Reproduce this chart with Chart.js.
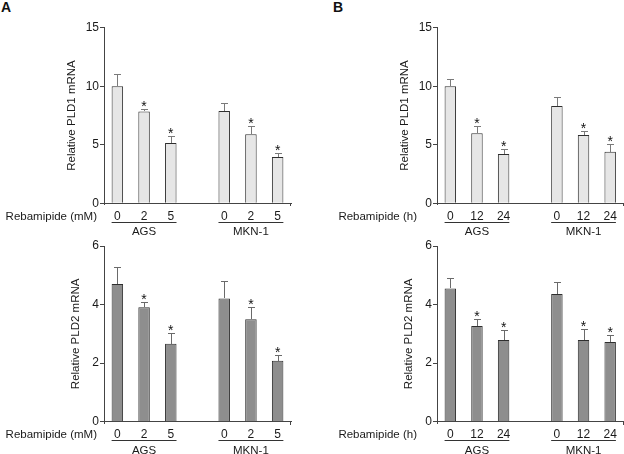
<!DOCTYPE html>
<html>
<head>
<meta charset="utf-8">
<script src="https://cdn.jsdelivr.net/npm/chart.js@4.4.1/dist/chart.umd.min.js"></script>
<style>
  html, body { margin: 0; padding: 0; background: #ffffff; }
  #page { position: relative; width: 624px; height: 454px; overflow: hidden; }
  .panel { position: absolute; width: 312px; height: 240px; }
  .tag { position: absolute; font: bold 14px "Liberation Sans", Arial, sans-serif; color: #111; }
</style>
</head>
<body>
<div id="page">
  <div class="tag" style="left:1px; top:-1px;">A</div>
  <div class="tag" style="left:333px; top:-1px;">B</div>
  <div class="panel" style="left:0; top:0;"><canvas id="pld1DoseChart"></canvas></div>
  <div class="panel" style="left:312px; top:0;"><canvas id="pld1TimeChart"></canvas></div>
  <div class="panel" style="left:0; top:214px;"><canvas id="pld2DoseChart"></canvas></div>
  <div class="panel" style="left:312px; top:214px;"><canvas id="pld2TimeChart"></canvas></div>
</div>

<script>
/* ===========================================
   DATA
=========================================== */

const doseTicks = ["0", "2", "5", "", "0", "2", "5"];
const timeTicks = ["0", "12", "24", "", "0", "12", "24"];

const cellLines = ["AGS", "MKN-1"];
const cellGroups = [[0, 2], [4, 6]];

const starred = [false, true, true, false, false, true, true];

const pld1Dose    = [10.0, 7.85, 5.15, null, 7.88, 5.90, 3.95];
const pld1DoseErr = [1.07, 0.23, 0.57, null, 0.66, 0.70, 0.37];

const pld2Dose    = [4.70, 3.91, 2.66, null, 4.21, 3.50, 2.08];
const pld2DoseErr = [0.59, 0.19, 0.38, null, 0.60, 0.41, 0.21];

const pld1Time    = [10.0, 5.98, 4.21, null, 8.31, 5.84, 4.41];
const pld1TimeErr = [0.59, 0.62, 0.40, null, 0.77, 0.36, 0.63];

const pld2Time    = [4.55, 3.27, 2.79, null, 4.36, 2.79, 2.72];
const pld2TimeErr = [0.37, 0.23, 0.35, null, 0.42, 0.39, 0.23];

/* ===========================================
   DEFAULTS
=========================================== */

const FONT = "\"Liberation Sans\", Arial, Helvetica, sans-serif";
const AXIS_COLOR = "#444444";
const TEXT_COLOR = "#1a1a1a";

Chart.defaults.font.family = FONT;
Chart.defaults.color = TEXT_COLOR;

/* ===========================================
   ERROR BARS, STARS, GROUP LABELS
=========================================== */

const extrasPlugin = {

    id: "extras",

    afterDatasetsDraw(chart, args, opts) {

        const ctx = chart.ctx;
        const meta = chart.getDatasetMeta(0);
        const yScale = chart.scales.y;
        const values = chart.data.datasets[0].data;

        ctx.save();
        ctx.lineWidth = 1;
        ctx.strokeStyle = opts.errorColor;

        meta.data.forEach((bar, i) => {

            if (values[i] == null) return;

            const x = Math.round(bar.x) + 0.5;
            const top = Math.round(yScale.getPixelForValue(values[i] + opts.errors[i])) + 0.5;
            const base = Math.round(bar.y);

            ctx.beginPath();
            ctx.moveTo(x, base);
            ctx.lineTo(x, top);
            ctx.moveTo(x - 3.5, top);
            ctx.lineTo(x + 3.5, top);
            ctx.stroke();

            if (starred[i]) {
                ctx.fillStyle = "#111111";
                ctx.font = "14px " + FONT;
                ctx.textAlign = "center";
                ctx.textBaseline = "alphabetic";
                ctx.fillText("*", bar.x, top + 1.5);
            }

        });

        ctx.restore();

    },

    afterDraw(chart, args, opts) {

        const ctx = chart.ctx;
        const area = chart.chartArea;
        const meta = chart.getDatasetMeta(0);

        ctx.save();

        // little overhangs at the axis ends
        ctx.strokeStyle = AXIS_COLOR;
        ctx.lineWidth = 1;
        ctx.beginPath();
        ctx.moveTo(Math.round(area.right) - 0.5, Math.round(area.bottom));
        ctx.lineTo(Math.round(area.right) - 0.5, Math.round(area.bottom) + 3);
        ctx.moveTo(Math.round(area.left) + 0.5, Math.round(area.bottom));
        ctx.lineTo(Math.round(area.left) + 0.5, Math.round(area.bottom) + 2);
        ctx.stroke();

        ctx.fillStyle = TEXT_COLOR;
        ctx.font = "11.5px " + FONT;
        ctx.textBaseline = "middle";

        // Rebamipide (mM) / (h)
        ctx.textAlign = "right";
        ctx.fillText(opts.xTitle, area.left - opts.xTitleGap, area.bottom + 13.6);

        // cell line underlines and names
        const lineY = Math.round(area.bottom + 18.6) + 0.5;
        ctx.strokeStyle = "#333333";
        ctx.textAlign = "center";

        cellGroups.forEach((g, k) => {

            const first = meta.data[g[0]];
            const last = meta.data[g[1]];
            const x0 = first.x - first.width / 2;
            const x1 = last.x + last.width / 2;

            ctx.beginPath();
            ctx.moveTo(x0, lineY);
            ctx.lineTo(x1, lineY);
            ctx.stroke();

            ctx.fillText(cellLines[k], (x0 + x1) / 2, area.bottom + 28.8);

        });

        ctx.restore();

    }

};

/* ===========================================
   PANEL BUILDER
=========================================== */

function makePanel(p) {

    return new Chart(

        document.getElementById(p.id),

        {

            type: "bar",

            data: {

                labels: p.labels,

                datasets: [

                    {

                        data: p.values,

                        backgroundColor: p.fill,

                        borderColor: "#2e2e2e",

                        borderWidth: 1,

                        barPercentage: 0.86,

                        categoryPercentage: 0.5

                    }

                ]

            },

            options: {

                responsive: true,

                maintainAspectRatio: false,

                animation: false,

                layout: {

                    autoPadding: false,

                    padding: {
                        left: 0,
                        right: 312 - p.areaRight,
                        top: p.areaTop,
                        bottom: 0
                    }

                },

                plugins: {

                    legend: { display: false },

                    tooltip: { enabled: false },

                    extras: {
                        errors: p.errors,
                        errorColor: p.errorColor,
                        xTitle: p.xTitle,
                        xTitleGap: p.xTitleGap
                    }

                },

                scales: {

                    x: {

                        grid: { display: false, drawTicks: false },

                        border: { display: true, color: AXIS_COLOR, width: 1 },

                        ticks: {
                            padding: 6,
                            autoSkip: false,
                            maxRotation: 0,
                            color: TEXT_COLOR,
                            font: { size: 12 }
                        },

                        afterFit(scale) {
                            scale.height = 240 - p.areaBottom;
                        }

                    },

                    y: {

                        min: 0,

                        max: p.max,

                        grid: {
                            display: true,
                            drawOnChartArea: false,
                            drawTicks: true,
                            tickLength: 4,
                            color: AXIS_COLOR
                        },

                        border: { display: true, color: AXIS_COLOR, width: 1 },

                        ticks: {
                            stepSize: p.step,
                            padding: 1,
                            color: TEXT_COLOR,
                            font: { size: 12 }
                        },

                        title: {
                            display: true,
                            text: p.yTitle,
                            color: TEXT_COLOR,
                            font: { size: 11.5 },
                            padding: { top: p.titleX - 6.9, bottom: 0 }
                        },

                        afterFit(scale) {
                            scale.width = p.areaLeft;
                        }

                    }

                }

            },

            plugins: [extrasPlugin]

        }

    );

}

/* ===========================================
   1. PLD1 VS DOSE
=========================================== */

makePanel({
    id: "pld1DoseChart",
    labels: doseTicks,
    values: pld1Dose,
    errors: pld1DoseErr,
    max: 15,
    step: 5,
    yTitle: "Relative PLD1 mRNA",
    xTitle: "Rebamipide (mM)",
    xTitleGap: 7,
    fill: "#e6e6e6",
    errorColor: "#7a7a7a",
    areaLeft: 104,
    areaRight: 291,
    areaTop: 27.7,
    areaBottom: 203.3,
    titleX: 72
});

/* ===========================================
   2. PLD1 VS TIME
=========================================== */

makePanel({
    id: "pld1TimeChart",
    labels: timeTicks,
    values: pld1Time,
    errors: pld1TimeErr,
    max: 15,
    step: 5,
    yTitle: "Relative PLD1 mRNA",
    xTitle: "Rebamipide (h)",
    xTitleGap: 20,
    fill: "#e6e6e6",
    errorColor: "#7a7a7a",
    areaLeft: 125,
    areaRight: 311.5,
    areaTop: 27.7,
    areaBottom: 203.3,
    titleX: 93
});

/* ===========================================
   3. PLD2 VS DOSE
=========================================== */

makePanel({
    id: "pld2DoseChart",
    labels: doseTicks,
    values: pld2Dose,
    errors: pld2DoseErr,
    max: 6,
    step: 2,
    yTitle: "Relative PLD2 mRNA",
    xTitle: "Rebamipide (mM)",
    xTitleGap: 7,
    fill: "#8e8e8e",
    errorColor: "#6a6a6a",
    areaLeft: 104,
    areaRight: 291,
    areaTop: 32,
    areaBottom: 207.7,
    titleX: 76
});

/* ===========================================
   4. PLD2 VS TIME
=========================================== */

makePanel({
    id: "pld2TimeChart",
    labels: timeTicks,
    values: pld2Time,
    errors: pld2TimeErr,
    max: 6,
    step: 2,
    yTitle: "Relative PLD2 mRNA",
    xTitle: "Rebamipide (h)",
    xTitleGap: 20,
    fill: "#8e8e8e",
    errorColor: "#6a6a6a",
    areaLeft: 125,
    areaRight: 311.5,
    areaTop: 32,
    areaBottom: 207.7,
    titleX: 96.7
});
</script>
</body>
</html>
